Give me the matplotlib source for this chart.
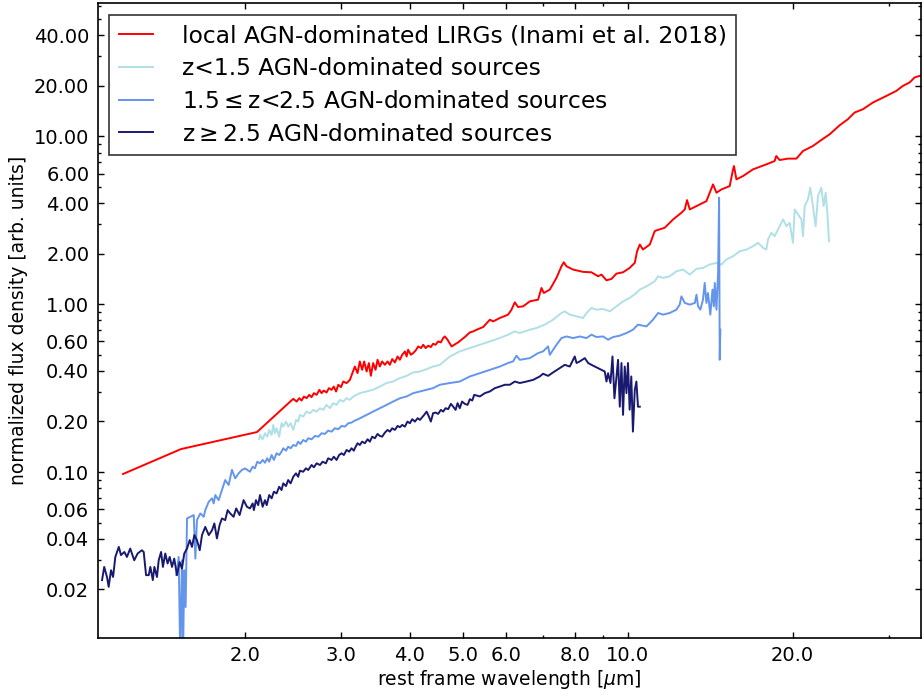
import matplotlib
matplotlib.use("Agg")
import matplotlib.pyplot as plt
from matplotlib.ticker import FixedLocator, FixedFormatter, LogLocator, NullFormatter

red_wl = [1.198, 1.529, 2.104, 2.451,
          2.486, 2.514, 2.538, 2.563, 2.592, 2.621, 2.647, 2.673, 2.704, 2.735, 2.761, 2.786, 2.819, 2.847, 2.879, 2.906, 2.934, 2.961, 2.996, 3.024, 3.067, 3.110,
          3.175, 3.211, 3.242, 3.274, 3.302, 3.336, 3.368, 3.396, 3.429, 3.464, 3.493, 3.527, 3.561, 3.602, 3.643, 3.679, 3.715, 3.757, 3.800, 3.837, 3.875, 3.919, 3.947, 3.972, 4.018, 4.058, 4.100, 4.145, 4.193, 4.233, 4.275, 4.322, 4.370, 4.412, 4.458, 4.506, 4.558, 4.603, 4.635, 4.688, 4.768, 4.900, 5.041, 5.149, 5.222,
          5.297, 5.446, 5.601, 5.679, 5.840, 6.047, 6.134, 6.219, 6.306, 6.440, 6.625, 6.860, 6.958, 7.026, 7.206, 7.411, 7.568, 7.641, 7.728, 7.947, 8.288, 8.585, 8.829, 8.954, 9.144, 9.339, 9.537, 9.804, 10.08, 10.30, 10.40, 10.52, 10.66, 10.97, 11.20, 11.31, 11.68, 12.10, 12.53, 12.71, 12.83, 12.98, 13.35, 13.92, 14.15, 14.31, 14.52, 14.83, 15.35, 15.57, 15.63, 15.79, 16.23, 16.93, 17.91, 18.54, 18.67, 18.94, 19.61, 20.32, 20.89, 21.78, 22.56, 23.37, 24.37, 25.23, 25.95, 26.88, 28.03, 29.67, 30.93, 31.80, 32.70, 33.40, 34.12, 35.0]
red_fl = [0.0973, 0.137, 0.173, 0.273,
          0.2629, 0.2754, 0.2665, 0.2815, 0.2754, 0.2882, 0.2792, 0.2950, 0.2882, 0.3087, 0.2950, 0.3058, 0.2975, 0.3160, 0.3087, 0.3230, 0.3016, 0.3307, 0.3203, 0.3460, 0.3385, 0.3542,
          0.4253, 0.3884, 0.4556, 0.4064, 0.4556, 0.3970, 0.4457, 0.3742, 0.4457, 0.4064, 0.4664, 0.4253, 0.4556, 0.4353, 0.4556, 0.4353, 0.4708, 0.4493, 0.4880, 0.4664, 0.4994, 0.5226, 0.4880, 0.5350, 0.4994, 0.5112, 0.5298, 0.5598, 0.5476, 0.5730, 0.5476, 0.5652, 0.5551, 0.5809, 0.5730, 0.5996, 0.5916, 0.6284, 0.6424, 0.6136, 0.5598, 0.5916, 0.6370, 0.6786, 0.6880,
          0.704, 0.731, 0.808, 0.789, 0.827, 0.866, 0.927, 1.025, 0.962, 0.970, 1.039, 1.064, 1.249, 1.166, 1.221, 1.434, 1.682, 1.776, 1.682, 1.607, 1.557, 1.548, 1.466, 1.500, 1.387, 1.414, 1.521, 1.548, 1.644, 1.762, 2.066, 2.266, 2.115, 2.266, 2.721, 2.758, 2.851, 3.196, 3.504, 3.666, 4.167, 3.666, 3.836, 4.110, 4.714, 5.169, 4.612, 4.826, 5.050, 6.353, 6.648, 5.538, 5.794, 6.353, 6.805, 7.121, 7.627, 7.220, 7.361, 7.361, 8.173, 8.752, 9.504, 10.28, 11.63, 12.64, 13.85, 14.50, 15.89, 17.40, 18.64, 19.97, 20.92, 22.41, 22.91, 23.5]

lb_wl = [2.124, 2.131, 2.155, 2.176, 2.197, 2.215, 2.238, 2.253, 2.269, 2.285, 2.310, 2.333, 2.350, 2.377, 2.399, 2.424, 2.451, 2.479, 2.502, 2.520, 2.555, 2.592, 2.629, 2.665, 2.704, 2.742, 2.780, 2.819, 2.859, 2.899, 2.940, 2.982, 3.024, 3.067, 3.110, 3.152, 3.197, 3.242,
         3.336, 3.429, 3.527, 3.628, 3.730, 3.837, 3.947, 4.058, 4.174, 4.293, 4.412, 4.538, 4.735, 4.935, 5.149, 5.370, 5.601, 5.840, 6.047, 6.219, 6.352, 6.625, 6.814, 7.055, 7.306, 7.568, 7.674, 7.837, 8.063, 8.288, 8.408, 8.585, 8.767, 9.015, 9.272, 9.537, 9.804, 10.08, 10.37, 10.52, 10.82, 11.20, 11.36, 11.60, 11.93, 12.27, 12.62, 12.98, 13.35, 13.72, 14.11, 14.52, 14.83, 15.14, 15.57, 16.01, 16.47, 16.93, 17.29, 17.66, 17.91, 18.03, 18.29, 18.54, 18.94, 19.21, 19.49, 19.75, 20.03, 20.17, 20.46, 20.75, 20.89, 21.04, 21.33, 21.54, 21.78, 22.03, 22.25, 22.56, 22.79, 22.98, 23.14, 23.30]
lb_fl = [0.157, 0.1663, 0.1567, 0.1702, 0.1624, 0.1781, 0.1663, 0.1908, 0.1702, 0.1823, 0.1624, 0.1953, 0.1864, 0.1997, 0.1864, 0.1953, 0.1781, 0.2044, 0.1997, 0.2189, 0.2138, 0.2291, 0.2241, 0.2345, 0.2291, 0.2400, 0.2345, 0.2512, 0.2400, 0.2571, 0.2512, 0.2691, 0.2629, 0.2754, 0.2691, 0.2815, 0.2882, 0.2950,
         0.302, 0.309, 0.323, 0.339, 0.346, 0.363, 0.374, 0.392, 0.397, 0.410, 0.425, 0.435, 0.488, 0.523, 0.548, 0.573, 0.600, 0.628, 0.658, 0.688, 0.673, 0.704, 0.721, 0.755, 0.808, 0.886, 0.906, 0.866, 0.846, 0.827, 0.886, 0.949, 0.927, 0.936, 0.906, 0.970, 1.039, 1.089, 1.166, 1.221, 1.277, 1.368, 1.466, 1.434, 1.466, 1.570, 1.607, 1.500, 1.623, 1.644, 1.722, 1.762, 1.722, 1.844, 1.929, 2.066, 2.115, 2.214, 2.319, 2.165, 2.115, 2.427, 2.661, 2.540, 2.914, 3.196, 2.914, 3.054, 2.319, 3.666, 3.422, 3.196, 2.540, 3.836, 4.206, 4.940, 3.836, 2.914, 4.401, 4.940, 3.836, 4.612, 3.504, 2.371]

mb_wl = [1.499, 1.514, 1.524, 1.535, 1.542, 1.550, 1.559, 1.568, 1.590, 1.613, 1.624, 1.635, 1.658, 1.682, 1.693, 1.718, 1.742, 1.754, 1.766, 1.791, 1.816, 1.841, 1.868, 1.894, 1.920, 1.948, 1.975, 2.002,
         2.043, 2.066, 2.086, 2.107, 2.131, 2.155, 2.176, 2.197, 2.215, 2.238, 2.259, 2.285, 2.310, 2.333, 2.350, 2.377, 2.399, 2.424, 2.451, 2.479, 2.502, 2.527, 2.555, 2.585, 2.610, 2.647, 2.685, 2.723, 2.761, 2.800, 2.838, 2.879, 2.920, 2.961, 3.003, 3.045, 3.089, 3.131, 3.175, 3.219,
         3.336, 3.429, 3.527, 3.628, 3.730, 3.837, 3.947, 4.058, 4.174, 4.293, 4.412, 4.538, 4.735, 4.935, 5.149, 5.370, 5.601, 5.840, 6.047, 6.175, 6.264, 6.352, 6.625, 6.860, 7.005, 7.154, 7.206, 7.411, 7.568, 7.728, 7.947, 8.174, 8.408, 8.585, 8.767, 9.015, 9.207, 9.402, 9.670, 9.945, 10.22, 10.44, 10.82, 11.12, 11.36, 11.60, 11.93, 12.27, 12.44, 12.53, 12.71, 12.98, 13.26, 13.35, 13.44, 13.57, 13.72, 13.82, 13.92, 14.01, 14.15, 14.28, 14.36, 14.42, 14.52, 14.62, 14.68, 14.72, 14.76]
mb_fl = [0.0243, 0.0312, 0.008, 0.0298, 0.008, 0.0260, 0.0157, 0.0529, 0.0541, 0.0554, 0.0305, 0.0517, 0.0567, 0.0541, 0.0593, 0.0665, 0.0697, 0.0650, 0.0729, 0.0680, 0.0781, 0.0896, 0.0837, 0.103, 0.0917, 0.0982, 0.103, 0.105,
         0.1004, 0.1075, 0.1052, 0.1152, 0.1127, 0.1180, 0.1136, 0.1207, 0.1152, 0.1263, 0.1180, 0.1293, 0.1263, 0.1322, 0.1385, 0.1340, 0.1416, 0.1385, 0.1449, 0.1429, 0.1517, 0.1470, 0.1552, 0.1517, 0.1589, 0.1567, 0.1640, 0.1624, 0.1702, 0.1686, 0.1764, 0.1740, 0.1823, 0.1798, 0.1882, 0.1864, 0.1953, 0.1970, 0.2024, 0.2064,
         0.219, 0.229, 0.240, 0.251, 0.263, 0.275, 0.282, 0.295, 0.302, 0.309, 0.316, 0.331, 0.339, 0.346, 0.371, 0.388, 0.406, 0.425, 0.446, 0.456, 0.493, 0.466, 0.477, 0.511, 0.523, 0.560, 0.499, 0.573, 0.628, 0.642, 0.628, 0.642, 0.628, 0.658, 0.637, 0.642, 0.614, 0.637, 0.649, 0.673, 0.704, 0.755, 0.737, 0.808, 0.886, 0.866, 0.886, 0.927, 0.993, 1.113, 1.017, 0.993, 1.017, 1.139, 0.970, 0.927, 1.064, 1.338, 1.017, 1.166, 0.866, 1.221, 0.970, 1.338, 0.927, 1.536, 4.305, 0.466, 0.704]

db_wl = [1.097, 1.107, 1.120, 1.128, 1.139, 1.149, 1.160, 1.177, 1.188, 1.205, 1.218, 1.235, 1.256, 1.274, 1.297, 1.307, 1.320, 1.335, 1.344, 1.358, 1.367, 1.382, 1.392, 1.406, 1.417, 1.431, 1.445, 1.458, 1.472, 1.486, 1.503, 1.520, 1.535, 1.550, 1.568, 1.586, 1.601, 1.617, 1.635, 1.654, 1.670, 1.693, 1.718, 1.742, 1.759, 1.778, 1.798, 1.816, 1.841, 1.860, 1.880, 1.907, 1.928, 1.956, 1.989, 2.017,
         2.043, 2.066, 2.077, 2.095, 2.115, 2.131, 2.155, 2.176, 2.192, 2.215, 2.238, 2.259, 2.285, 2.310, 2.333, 2.350, 2.377, 2.399, 2.424, 2.451, 2.479, 2.502, 2.520, 2.555, 2.585, 2.610, 2.647, 2.673, 2.704, 2.742, 2.773, 2.811, 2.838, 2.879, 2.906, 2.940, 2.972, 3.003, 3.032, 3.067, 3.101, 3.131, 3.162,
         3.175, 3.211, 3.242, 3.274, 3.312, 3.350, 3.382, 3.415, 3.454, 3.493, 3.527, 3.561, 3.602, 3.643, 3.679, 3.715, 3.757, 3.800, 3.837, 3.875, 3.919, 3.960, 4.002, 4.041, 4.087, 4.134, 4.174, 4.214, 4.249, 4.293, 4.335, 4.370, 4.412, 4.458, 4.506, 4.558, 4.603, 4.649, 4.701, 4.754, 4.800, 4.849, 4.890, 4.935, 4.983, 5.041, 5.100, 5.149, 5.201, 5.244,
         5.370, 5.484, 5.601, 5.720, 5.840, 5.964, 6.092, 6.219, 6.352, 6.533, 6.719, 6.909, 7.005, 7.154, 7.306, 7.514, 7.674, 7.837, 8.003, 8.063, 8.174, 8.348, 8.466, 8.585, 8.707, 8.829, 8.954, 9.078, 9.144, 9.207, 9.299, 9.378, 9.456, 9.537, 9.601, 9.670, 9.739, 9.804, 9.874, 9.945, 10.01, 10.08, 10.15, 10.22, 10.30, 10.37, 10.44, 10.52]
db_fl = [0.0227, 0.0272, 0.0237, 0.0207, 0.0260, 0.0237, 0.0312, 0.0358, 0.0320, 0.0334, 0.0312, 0.0350, 0.0298, 0.0327, 0.0342, 0.0334, 0.0243, 0.0243, 0.0272, 0.0227, 0.0272, 0.0237, 0.0298, 0.0334, 0.0272, 0.0327, 0.0285, 0.0312, 0.0272, 0.0305, 0.0243, 0.0291, 0.0266, 0.0327, 0.0350, 0.0393, 0.0358, 0.0421, 0.0393, 0.0342, 0.0421, 0.0471, 0.0421, 0.0450, 0.0494, 0.0402, 0.0483, 0.0529, 0.0517, 0.0593, 0.0567, 0.0541, 0.0607, 0.0554, 0.0680, 0.0621,
         0.0607, 0.0650, 0.0593, 0.0680, 0.0635, 0.0729, 0.0621, 0.0680, 0.0635, 0.0729, 0.0697, 0.0763, 0.0746, 0.0817, 0.0781, 0.0856, 0.0825, 0.0896, 0.0856, 0.0937, 0.0982, 0.0937, 0.1018, 0.1004, 0.1052, 0.1028, 0.1101, 0.1067, 0.1127, 0.1101, 0.1152, 0.1127, 0.1207, 0.1180, 0.1234, 0.1180, 0.1263, 0.1293, 0.1263, 0.1353, 0.1322, 0.1385, 0.1340,
         0.1385, 0.1484, 0.1449, 0.1517, 0.1484, 0.1567, 0.1517, 0.1624, 0.1589, 0.1686, 0.1640, 0.1624, 0.1716, 0.1781, 0.1740, 0.1823, 0.1781, 0.1882, 0.1849, 0.1908, 0.1864, 0.1997, 0.1953, 0.2064, 0.1997, 0.2092, 0.2044, 0.2121, 0.2189, 0.2291, 0.2138, 0.1997, 0.2241, 0.2260, 0.2220, 0.2345, 0.2291, 0.2400, 0.2368, 0.2547, 0.2454, 0.2345, 0.2571, 0.2400, 0.2629, 0.2547, 0.2512, 0.2716, 0.2665, 0.2882,
         0.282, 0.295, 0.302, 0.316, 0.323, 0.331, 0.331, 0.346, 0.339, 0.346, 0.354, 0.371, 0.385, 0.374, 0.392, 0.416, 0.435, 0.425, 0.488, 0.446, 0.456, 0.477, 0.446, 0.435, 0.425, 0.416, 0.406, 0.397, 0.346, 0.388, 0.339, 0.488, 0.275, 0.371, 0.466, 0.245, 0.446, 0.219, 0.425, 0.295, 0.446, 0.235, 0.371, 0.174, 0.309, 0.346, 0.245, 0.245]

labels = ['local AGN-dominated LIRGs (Inami et al. 2018)',
          'z<1.5 AGN-dominated sources',
          r'1.5$\leq$z<2.5 AGN-dominated sources',
          r'z$\geq$2.5 AGN-dominated sources']
colors = ['#ff0000', '#b0e0e6', '#6495ed', '#191970']

x_major = [2.0, 3.0, 4.0, 5.0, 6.0, 8.0, 10.0, 20.0]
y_major = [0.02, 0.04, 0.06, 0.10, 0.20, 0.40, 0.60, 1.00, 2.00, 4.00, 6.00, 10.00, 20.00, 40.00]

plt.rcParams['font.family'] = ['DejaVu Sans']
plt.rcParams['mathtext.fontset'] = 'dejavusans'

fig = plt.figure(figsize=(9.24, 6.95), dpi=100)
ax = fig.add_axes([0.1057, 0.0824, 0.891, 0.9129])

series = [(red_wl, red_fl), (lb_wl, lb_fl), (mb_wl, mb_fl), (db_wl, db_fl)]
for (wl, fl), c, lab in zip(series, colors, labels):
    ax.plot(wl, fl, color=c, lw=1.4, label=lab)

ax.set_xscale('log')
ax.set_yscale('log')
ax.set_xlim(1.077, 34.3)
ax.set_ylim(0.0103, 62)

ax.xaxis.set_major_locator(FixedLocator(x_major))
ax.xaxis.set_major_formatter(FixedFormatter(['%.1f' % v for v in x_major]))
ax.xaxis.set_minor_locator(LogLocator(base=10, subs=range(2, 10)))
ax.xaxis.set_minor_formatter(NullFormatter())
ax.yaxis.set_major_locator(FixedLocator(y_major))
ax.yaxis.set_major_formatter(FixedFormatter(['%.2f' % v for v in y_major]))
ax.yaxis.set_minor_locator(LogLocator(base=10, subs=range(2, 10)))
ax.yaxis.set_minor_formatter(NullFormatter())

ax.tick_params(which='both', direction='in', top=True, right=True, labelsize=14, width=1.0)
ax.tick_params(which='major', length=4.5, pad=6)
ax.tick_params(which='minor', length=2.2)
for s in ax.spines.values():
    s.set_linewidth(1.2)

ax.set_xlabel(r'rest frame wavelength [$\mu$m]', fontsize=13.5, labelpad=2)
ax.set_ylabel('normalized flux density [arb. units]', fontsize=13.5, labelpad=4)

leg = ax.legend(loc='upper left', fontsize=16.8, frameon=True, fancybox=False,
                handlelength=1.45, handletextpad=1.25, borderpad=0.4,
                labelspacing=0.42, borderaxespad=0.5)
leg.get_frame().set_edgecolor('black')
leg.get_frame().set_linewidth(1.2)

fig.savefig('out.png', dpi=100)
